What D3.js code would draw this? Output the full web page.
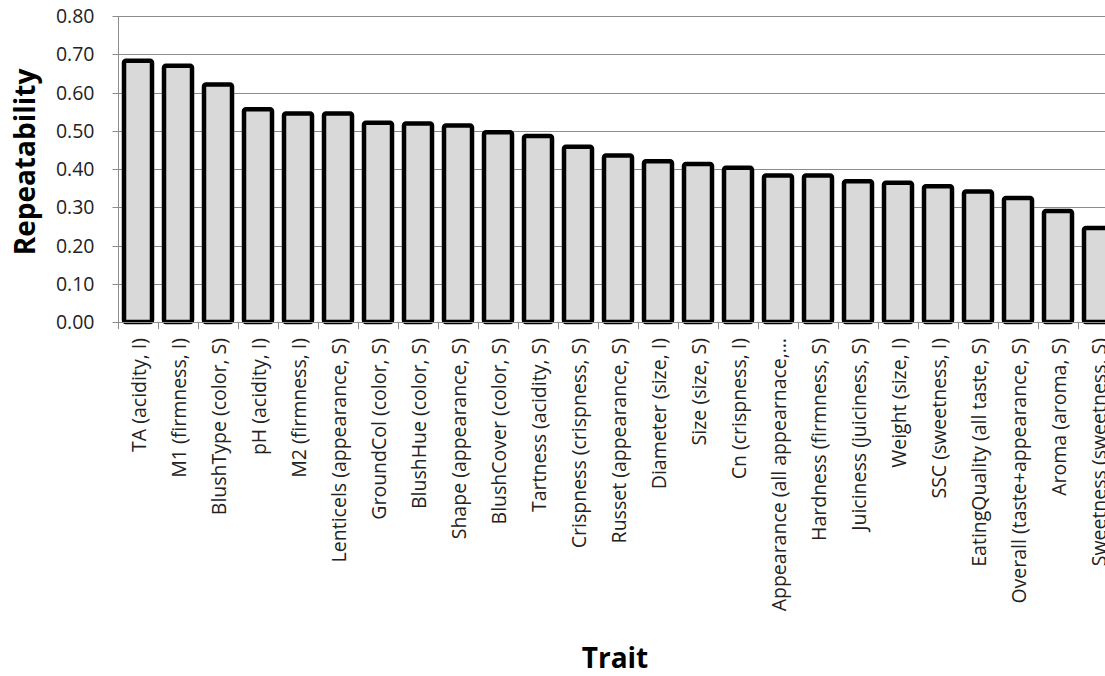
<!DOCTYPE html>
<html>
<head>
<meta charset="utf-8">
<script src="https://cdn.jsdelivr.net/npm/d3@7"></script>
<style>
  body { margin: 0; background: #fff; }
  svg { display: block; }
</style>
</head>
<body>
<script>
// traits, sorted from highest to lowest repeatability
var traits = [
  "TA (acidity, I)", "M1 (firmness, I)", "BlushType (color, S)", "pH (acidity, I)",
  "M2 (firmness, I)", "Lenticels (appearance, S)", "GroundCol (color, S)", "BlushHue (color, S)",
  "Shape (appearance, S)", "BlushCover (color, S)", "Tartness (acidity, S)", "Crispness (crispness, S)",
  "Russet (appearance, S)", "Diameter (size, I)", "Size (size, S)", "Cn (crispness, I)",
  "Appearance (all appearnace,\u2026", "Hardness (firmness, S)", "Juiciness (juiciness, S)", "Weight (size, I)",
  "SSC (sweetness, I)", "EatingQuality (all taste, S)", "Overall (taste+appearance, S)", "Aroma (aroma, S)",
  "Sweetness (sweetness, S)"
];
var repeatability = [
  0.683, 0.670, 0.621, 0.556, 0.545, 0.545, 0.521, 0.519, 0.514, 0.496, 0.486, 0.458,
  0.435, 0.420, 0.413, 0.403, 0.383, 0.383, 0.368, 0.364, 0.355, 0.341, 0.324, 0.290,
  0.246
];
var yTicks = [0, 0.1, 0.2, 0.3, 0.4, 0.5, 0.6, 0.7, 0.8];

var w = 1105;
var h = 676;
var plotLeft = 118, plotTop = 16, plotBottom = 322;
var band = 40;

var svg = d3.select("body")
            .append("svg")
            .attr("width", w)
            .attr("height", h)
            .style("font-family", "'Open Sans', sans-serif");

var xScale = d3.scaleBand()
               .domain(traits)
               .range([plotLeft, plotLeft + band * traits.length])
               .paddingInner(0.3)
               .paddingOuter(0.15);

var yScale = d3.scaleLinear()
               .domain([0, 0.8])
               .range([plotBottom, plotTop]);

// gridlines
svg.append("g")
   .selectAll("line")
   .data(yTicks.slice(1))
   .enter()
   .append("line")
   .attr("x1", plotLeft)
   .attr("x2", w)
   .attr("y1", function(d) { return Math.round(yScale(d)) + 0.5; })
   .attr("y2", function(d) { return Math.round(yScale(d)) + 0.5; })
   .attr("stroke", "#8c8c8c")
   .attr("stroke-width", 1);

// y axis
var yAxis = d3.axisLeft(yScale)
              .tickValues(yTicks)
              .tickSize(6)
              .tickPadding(18)
              .tickFormat(d3.format(".2f"));

var gy = svg.append("g")
            .attr("transform", "translate(" + (plotLeft + 0.5) + ",0)")
            .call(yAxis);
gy.selectAll("path, line").attr("stroke", "#8c8c8c");
gy.selectAll(".tick").attr("transform", function(d) {
    return "translate(0," + (Math.round(yScale(d)) + 0.5) + ")";
});
gy.select(".domain").attr("d", "M0," + plotTop + "V" + (plotBottom + 7));
gy.selectAll("text")
  .attr("font-size", "19.5px")
  .attr("fill", "#222")
  .attr("font-family", "'Open Sans', sans-serif");

// bars
svg.append("g")
   .selectAll("rect")
   .data(repeatability)
   .enter()
   .append("rect")
   .attr("x", function(d, i) { return xScale(traits[i]); })
   .attr("y", function(d) { return yScale(d); })
   .attr("width", xScale.bandwidth())
   .attr("height", function(d) { return plotBottom - yScale(d); })
   .attr("rx", 2)
   .attr("fill", "#d9d9d9")
   .attr("stroke", "#000")
   .attr("stroke-width", 4.5);

// x axis with ticks between bands
var gx = svg.append("g");
gx.append("line")
  .attr("x1", plotLeft)
  .attr("x2", w)
  .attr("y1", plotBottom + 0.5)
  .attr("y2", plotBottom + 0.5)
  .attr("stroke", "#8c8c8c");
gx.selectAll(".tick")
  .data(d3.range(traits.length + 1))
  .enter()
  .append("line")
  .attr("x1", function(i) { return plotLeft + band * i + 0.5; })
  .attr("x2", function(i) { return plotLeft + band * i + 0.5; })
  .attr("y1", plotBottom)
  .attr("y2", plotBottom + 7)
  .attr("stroke", "#8c8c8c");

gx.selectAll("text")
  .data(traits)
  .enter()
  .append("text")
  .attr("transform", function(d) {
      return "translate(" + (xScale(d) + xScale.bandwidth() / 2 + 8) + "," + (plotBottom + 16) + ") rotate(-90)";
  })
  .attr("text-anchor", "end")
  .attr("font-size", "19.5px")
  .attr("fill", "#222")
  .text(function(d) { return d; });

// axis titles
svg.append("text")
   .attr("transform", "translate(35,162) rotate(-90)")
   .attr("text-anchor", "middle")
   .attr("font-size", "28px")
   .attr("font-weight", "bold")
   .attr("fill", "#000")
   .text("Repeatability");

svg.append("text")
   .attr("x", 615)
   .attr("y", 668)
   .attr("text-anchor", "middle")
   .attr("font-size", "28px")
   .attr("font-weight", "bold")
   .attr("fill", "#000")
   .text("Trait");
</script>
</body>
</html>
